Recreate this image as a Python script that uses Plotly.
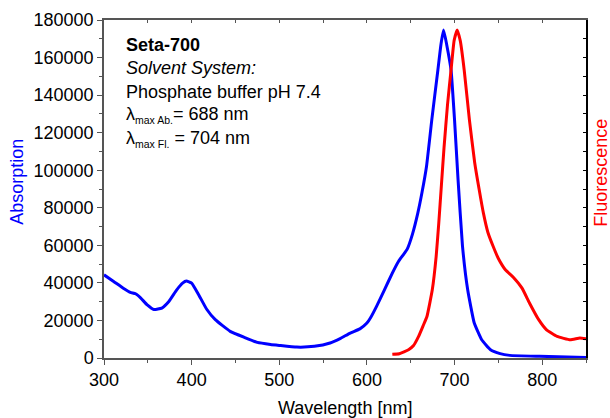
import plotly.graph_objects as go

# absorption spectrum (blue)
abs_wl = [300, 311, 322, 330, 336, 342, 349, 357, 366, 374, 383, 390, 394, 400, 408, 417,
          427, 444, 460, 475, 490, 500, 520, 540, 558, 570, 581, 592, 600, 604, 611, 620,
          629, 636, 646, 652, 658, 663, 668, 674, 681, 684.5, 687.5, 691, 696, 700, 704,
          709, 715, 722.5, 731, 741, 752, 763, 797, 850]
abs_val = [44300, 40800, 37200, 35000, 34200, 31900, 28400, 25800, 26600, 30100, 36300, 40000,
           41000, 39900, 33700, 26100, 20400, 14200, 11000, 8300, 7200, 6700, 5800, 6200, 8000,
           10500, 13300, 15500, 18600, 21300, 27500, 36300, 45200, 51400, 58000, 66000, 77000,
           88500, 102000, 126700, 153400, 167000, 174700, 167000, 153400, 126700, 95000,
           60000, 36300, 18600, 9700, 4400, 2300, 1400, 900, 300]

# fluorescence spectrum (red)
fl_wl = [629, 637, 647.5, 653, 659, 664, 668.5, 674.6, 679, 682, 685, 688, 692, 696,
         699.5, 703, 706.5, 711, 717, 723, 728, 733, 738, 744, 750, 758, 767, 777, 785.5, 796,
         805, 817, 832, 843, 850]
fl_val = [2000, 2300, 4400, 6500, 11500, 17000, 22100, 36300, 54000, 71800, 92000, 112000,
          135000, 153400, 169000, 174700, 169000, 153400, 126700, 104000, 90000, 77000, 67000,
          59500, 53000, 47000, 43000, 37200, 29300, 20400, 15000, 11500, 9700, 10600, 10200]

info_lines = [
    "<b>Seta-700</b>",
    "<i>Solvent System:</i>",
    "Phosphate buffer pH 7.4",
    "λ<sub><span style='font-size:10.5px'>max Ab.</span></sub>= 688 nm",
    "λ<sub><span style='font-size:10.5px'>max Fl.</span></sub> = 704 nm",
]

FONT = "Liberation Sans, Arial, sans-serif"
AXC = "#555555"

fig = go.Figure()
fig.add_trace(go.Scatter(x=abs_wl, y=abs_val, mode="lines", line=dict(color="#0000FF", width=3, shape="spline", smoothing=0.4),
                         xaxis="x", yaxis="y", showlegend=False))
fig.add_trace(go.Scatter(x=fl_wl, y=fl_val, mode="lines", line=dict(color="#FF0000", width=3, shape="spline", smoothing=0.4),
                         xaxis="x", yaxis="y2", showlegend=False))
# dummy trace so the top axis is drawn
fig.add_trace(go.Scatter(x=[None], y=[None], xaxis="x2", yaxis="y", showlegend=False))

fig.update_layout(
    width=610, height=418,
    margin=dict(l=104, r=24, t=20, b=60),
    paper_bgcolor="white", plot_bgcolor="white",
    font=dict(family=FONT, size=18, color="black"),
    xaxis=dict(range=[300, 850], dtick=100, tick0=300, ticks="outside", ticklen=5, tickcolor=AXC,
               showline=True, linecolor=AXC, linewidth=1.5, showgrid=False, zeroline=False, automargin=False,
               minor=dict(dtick=50, ticks="outside", ticklen=3, tickcolor=AXC, showgrid=False)),
    xaxis2=dict(range=[300, 850], overlaying="x", side="top", dtick=50, ticks="inside", ticklen=3,
                tickcolor=AXC, showticklabels=False, showline=True, linecolor=AXC, linewidth=1.5,
                showgrid=False, zeroline=False, automargin=False),
    yaxis=dict(range=[0, 180000], dtick=20000, ticks="outside", ticklen=5, tickcolor=AXC, tickformat="d",
               showline=True, linecolor=AXC, linewidth=1.5, showgrid=False, zeroline=False, automargin=False,
               minor=dict(dtick=10000, ticks="outside", ticklen=3, tickcolor=AXC, showgrid=False)),
    yaxis2=dict(range=[0, 180000], overlaying="y", side="right", dtick=10000, ticks="inside", ticklen=3,
                tickcolor="black", showticklabels=False, showline=True, linecolor="black", linewidth=1.5,
                showgrid=False, zeroline=False, automargin=False),
)

ys = [45, 68, 92, 115, 139]
for txt, py in zip(info_lines, ys):
    fig.add_annotation(text=txt, xref="paper", yref="paper", x=(124 - 104) / 482,
                       y=(358 - py) / 338, xanchor="left", yanchor="middle", showarrow=False,
                       font=dict(size=18, color="black"))

fig.add_annotation(text="Absorption", xref="paper", yref="paper", x=(17.5 - 104) / 482,
                   y=0.52, textangle=-90, xanchor="center", yanchor="middle", showarrow=False,
                   font=dict(size=18, color="#0000FF"))
fig.add_annotation(text="Fluorescence", xref="paper", yref="paper", x=(601 - 104) / 482,
                   y=0.548, textangle=-90, xanchor="center", yanchor="middle", showarrow=False,
                   font=dict(size=18, color="#FF0000"))
fig.add_annotation(text="Wavelength [nm]", xref="paper", yref="paper", x=0.5,
                   y=(358 - 408) / 338, xanchor="center", yanchor="middle", showarrow=False,
                   font=dict(size=18, color="black"))

# drop the page's default body margin so the figure fills the window exactly
fig.write_html("out.html", config={"displayModeBar": False},
               post_script="document.body.style.margin='0';document.body.style.overflow='hidden';")
